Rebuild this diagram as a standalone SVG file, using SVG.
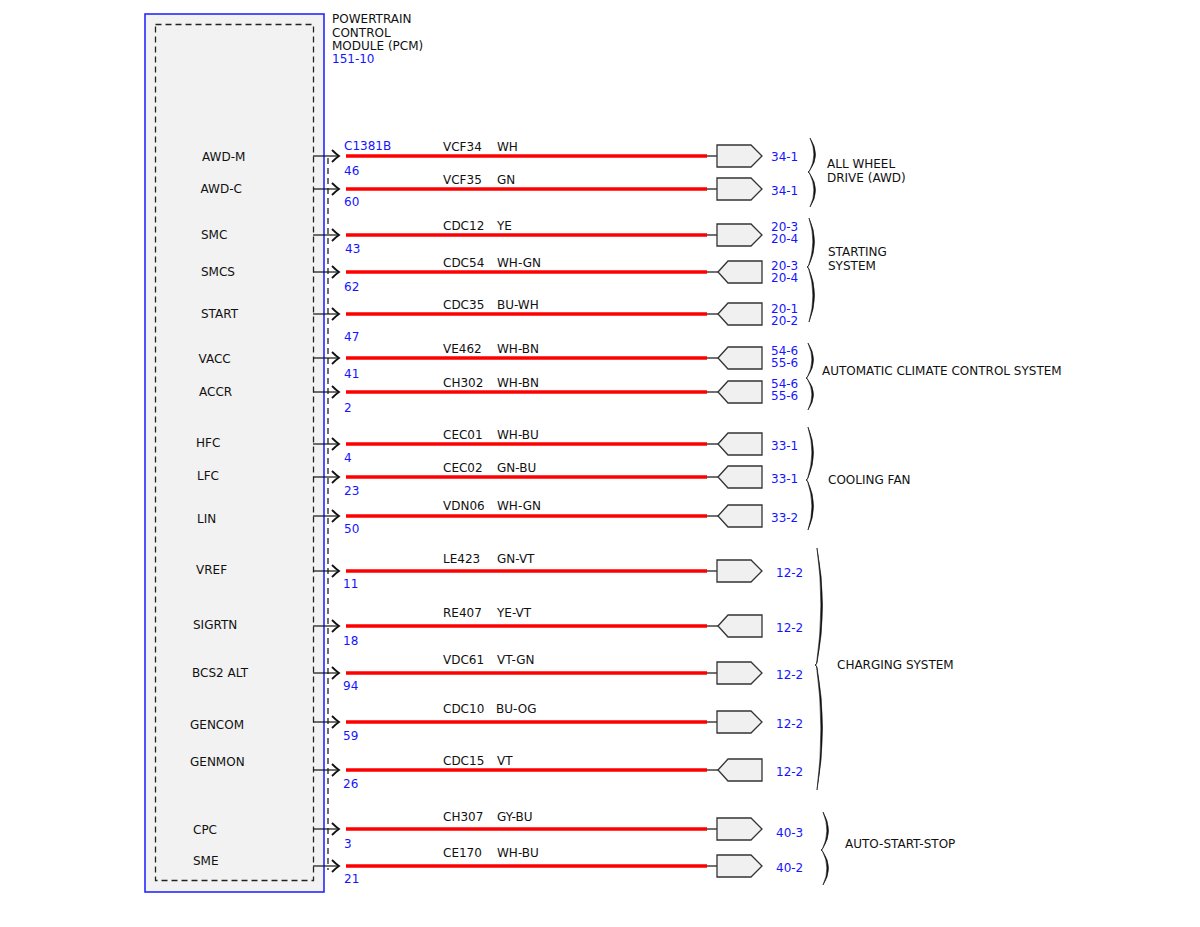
<svg xmlns="http://www.w3.org/2000/svg" xmlns:xlink="http://www.w3.org/1999/xlink" width="1200" height="927" viewBox="0 0 1200 927">
<style>
text{font-family:"DejaVu Sans","Noto Sans",sans-serif;font-size:12px;fill:#111}
.b{fill:#1414ff}
.red{stroke:#ff0000;stroke-width:3.6;fill:none}
.stub{stroke:#111;stroke-width:1.2;fill:none}
.arw{stroke:#111;stroke-width:1.8;fill:none;stroke-linejoin:miter}
.con{fill:#f0f0f0;stroke:#333;stroke-width:1.3}
.brace{fill:#111;stroke:#111;stroke-width:0.6}
.dash{stroke:#222;stroke-width:1.3;stroke-dasharray:6 4;fill:none}
</style>
<defs>
<path id="conR" d="M717,-11 L751,-11 L762,0 L751,11 L717,11 Z"/>
<path id="conL" d="M718,0 L728,-11 L762,-11 L762,11 L728,11 Z"/>
<g id="wire">
<path class="stub" d="M313,0 L339,0"/>
<path class="arw" d="M332,-6 Q336,-2 339,0 Q336,2 332,6"/>
<path class="red" d="M346,0 L707,0"/>
<path class="stub" d="M707,0 L718,0"/>
</g>
</defs>
<rect width="1200" height="927" fill="#fff"/>

<g id="pcm">
<rect x="145" y="14" width="179" height="878" fill="#f2f2f2" stroke="#1a1aff" stroke-width="1.5"/>
<rect x="155.5" y="24.5" width="158" height="856" class="dash"/>
<path class="dash" d="M328,158 L328,870"/>
<text x="332" y="23">POWERTRAIN</text>
<text x="332" y="37">CONTROL</text>
<text x="332" y="50">MODULE (PCM)</text>
<text x="332" y="63" class="b">151-10</text>
<text x="344" y="150" class="b">C1381B</text>
<text x="202" y="160.5">AWD-M</text>
<text x="200.5" y="192.5">AWD-C</text>
<text x="201" y="238.5">SMC</text>
<text x="201" y="275.5">SMCS</text>
<text x="201" y="317.5">START</text>
<text x="198.5" y="362.5">VACC</text>
<text x="199" y="395.5">ACCR</text>
<text x="196" y="446.5">HFC</text>
<text x="197" y="479.5">LFC</text>
<text x="197" y="522.5">LIN</text>
<text x="196" y="573.5">VREF</text>
<text x="193" y="628.5">SIGRTN</text>
<text x="192" y="676.5">BCS2 ALT</text>
<text x="190" y="728.5">GENCOM</text>
<text x="190" y="765.5">GENMON</text>
<text x="193" y="833.5">CPC</text>
<text x="193" y="864.5">SME</text>
<g class="b">
<text x="344" y="174.5" class="b">46</text>
<text x="344" y="206" class="b">60</text>
<text x="345" y="252.5" class="b">43</text>
<text x="344" y="290.5" class="b">62</text>
<text x="344" y="340.5" class="b">47</text>
<text x="344" y="377.5" class="b">41</text>
<text x="344" y="411.5" class="b">2</text>
<text x="344" y="461.5" class="b">4</text>
<text x="344" y="494.5" class="b">23</text>
<text x="344" y="532.5" class="b">50</text>
<text x="343" y="587.5" class="b">11</text>
<text x="343" y="644.5" class="b">18</text>
<text x="343" y="689.5" class="b">94</text>
<text x="343" y="739.5" class="b">59</text>
<text x="343" y="787.5" class="b">26</text>
<text x="344" y="847.5" class="b">3</text>
<text x="344" y="882.5" class="b">21</text>
</g>
</g>

<g id="wires">
<use xlink:href="#wire" y="156"/>
<use xlink:href="#wire" y="189"/>
<use xlink:href="#wire" y="235"/>
<use xlink:href="#wire" y="272"/>
<use xlink:href="#wire" y="314"/>
<use xlink:href="#wire" y="358"/>
<use xlink:href="#wire" y="392"/>
<use xlink:href="#wire" y="444"/>
<use xlink:href="#wire" y="477"/>
<use xlink:href="#wire" y="516"/>
<use xlink:href="#wire" y="571"/>
<use xlink:href="#wire" y="626"/>
<use xlink:href="#wire" y="673"/>
<use xlink:href="#wire" y="722"/>
<use xlink:href="#wire" y="770"/>
<use xlink:href="#wire" y="829"/>
<use xlink:href="#wire" y="866"/>
<text x="443" y="151">VCF34</text><text x="497" y="151">WH</text>
<text x="443" y="184">VCF35</text><text x="497" y="184">GN</text>
<text x="443" y="229.5">CDC12</text><text x="497" y="229.5">YE</text>
<text x="443" y="266.5">CDC54</text><text x="497" y="266.5">WH-GN</text>
<text x="443" y="308.5">CDC35</text><text x="497" y="308.5">BU-WH</text>
<text x="443" y="352.5">VE462</text><text x="497" y="352.5">WH-BN</text>
<text x="443" y="386.5">CH302</text><text x="497" y="386.5">WH-BN</text>
<text x="443" y="438.5">CEC01</text><text x="497" y="438.5">WH-BU</text>
<text x="443" y="471.5">CEC02</text><text x="497" y="471.5">GN-BU</text>
<text x="443" y="509.5">VDN06</text><text x="497" y="509.5">WH-GN</text>
<text x="443" y="562.5">LE423</text><text x="497" y="562.5">GN-VT</text>
<text x="443" y="616.5">RE407</text><text x="497" y="616.5">YE-VT</text>
<text x="443" y="663.5">VDC61</text><text x="497" y="663.5">VT-GN</text>
<text x="443" y="712.5">CDC10</text><text x="496" y="712.5">BU-OG</text>
<text x="443" y="764.5">CDC15</text><text x="497" y="764.5">VT</text>
<text x="443" y="820.5">CH307</text><text x="497" y="820.5">GY-BU</text>
<text x="443" y="856.5">CE170</text><text x="497" y="856.5">WH-BU</text>
</g>

<g id="c34-1a"><use xlink:href="#conR" y="156" class="con"/><text x="771" y="161" class="b">34-1</text></g>
<g id="c34-1b"><use xlink:href="#conR" y="189" class="con"/><text x="771" y="194.5" class="b">34-1</text></g>
<g id="c20-3a"><use xlink:href="#conR" y="235" class="con"/><text x="771" y="231" class="b">20-3</text><text x="771" y="243" class="b">20-4</text></g>
<g id="c20-3b"><use xlink:href="#conL" y="272" class="con"/><text x="771" y="269.5" class="b">20-3</text><text x="771" y="281.5" class="b">20-4</text></g>
<g id="c20-1"><use xlink:href="#conL" y="314" class="con"/><text x="771" y="313" class="b">20-1</text><text x="771" y="325" class="b">20-2</text></g>
<g id="c54-6a"><use xlink:href="#conL" y="358" class="con"/><text x="771" y="354.5" class="b">54-6</text><text x="771" y="367" class="b">55-6</text></g>
<g id="c54-6b"><use xlink:href="#conL" y="392" class="con"/><text x="771" y="387.5" class="b">54-6</text><text x="771" y="399.5" class="b">55-6</text></g>
<g id="c33-1a"><use xlink:href="#conL" y="444" class="con"/><text x="771" y="449.5" class="b">33-1</text></g>
<g id="c33-1b"><use xlink:href="#conL" y="477" class="con"/><text x="771" y="482.5" class="b">33-1</text></g>
<g id="c33-2"><use xlink:href="#conL" y="516" class="con"/><text x="771" y="521.5" class="b">33-2</text></g>
<g id="c12-2a"><use xlink:href="#conR" y="571" class="con"/><text x="776" y="577" class="b">12-2</text></g>
<g id="c12-2b"><use xlink:href="#conL" y="626" class="con"/><text x="776" y="632" class="b">12-2</text></g>
<g id="c12-2c"><use xlink:href="#conR" y="673" class="con"/><text x="776" y="679" class="b">12-2</text></g>
<g id="c12-2d"><use xlink:href="#conR" y="722" class="con"/><text x="776" y="728" class="b">12-2</text></g>
<g id="c12-2e"><use xlink:href="#conL" y="770" class="con"/><text x="776" y="776" class="b">12-2</text></g>
<g id="c40-3"><use xlink:href="#conR" y="829" class="con"/><text x="776" y="836.5" class="b">40-3</text></g>
<g id="c40-2"><use xlink:href="#conR" y="866" class="con"/><text x="776" y="872" class="b">40-2</text></g>

<g id="grp-awd">
<path class="brace" d="M810,138 Q821,155 810,170 L808,172 L810,174 Q821,190 810,207 Q818,190 809.5,173 L808.5,172 L809.5,171 Q818,155 810,138 Z"/>
<text x="827" y="167.5">ALL WHEEL</text>
<text x="827" y="181.5">DRIVE (AWD)</text>
</g>
<g id="grp-start">
<path class="brace" d="M809,218 Q820,242 809,265 L807,267 L809,269 Q820,295 809,322 Q817,295 808.5,268 L807.5,267 L808.5,266 Q817,242 809,218 Z"/>
<text x="828" y="255.5">STARTING</text>
<text x="828" y="269.5">SYSTEM</text>
</g>
<g id="grp-acc">
<path class="brace" d="M808,343 Q819,360 808,376 L806,378 L808,380 Q819,394 808,410 Q816,394 807.5,379 L806.5,378 L807.5,377 Q816,360 808,343 Z"/>
<text x="822" y="374.5">AUTOMATIC CLIMATE CONTROL SYSTEM</text>
</g>
<g id="grp-fan">
<path class="brace" d="M808,427 Q819,453 808,478 L806,480 L808,482 Q819,506 808,530 Q816,506 807.5,481 L806.5,480 L807.5,479 Q816,453 808,427 Z"/>
<text x="828" y="483.5">COOLING FAN</text>
</g>
<g id="grp-charge">
<path class="brace" d="M817,548 Q828,606 817,663 L815,665 L817,667 Q828,728 817,790 Q825,728 816.5,666 L815.5,665 L816.5,664 Q825,606 817,548 Z"/>
<text x="837" y="668.5">CHARGING SYSTEM</text>
</g>
<g id="grp-ass">
<path class="brace" d="M823,812 Q834,831 823,848 L821,850 L823,852 Q834,868 823,885 Q831,868 822.5,851 L821.5,850 L822.5,849 Q831,831 823,812 Z"/>
<text x="845" y="847.5">AUTO-START-STOP</text>
</g>
</svg>
